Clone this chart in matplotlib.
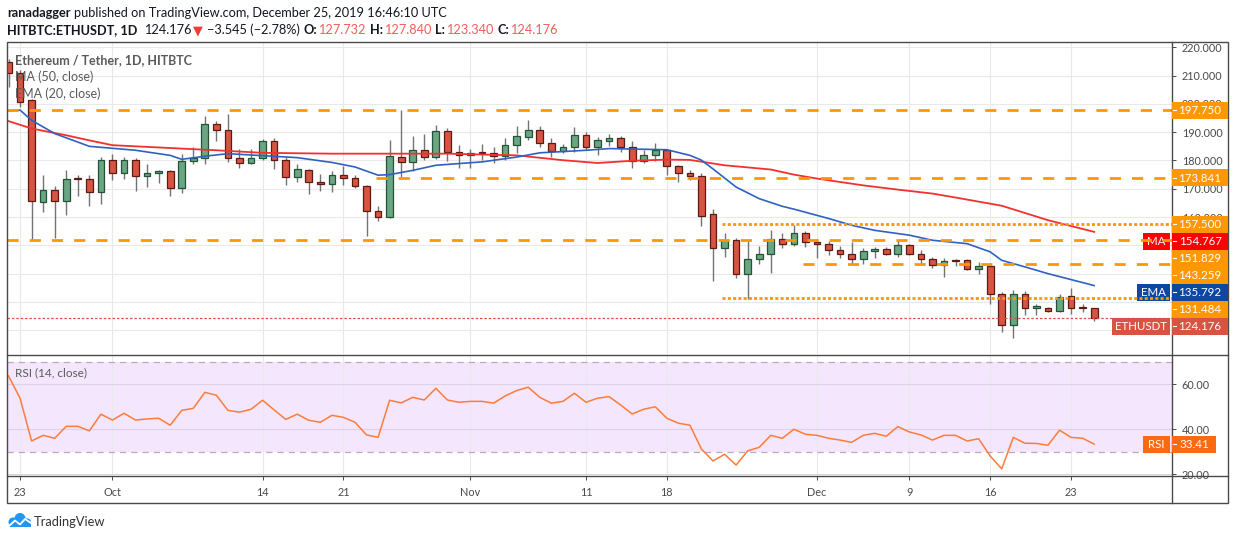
import matplotlib
matplotlib.use('Agg')
import matplotlib.pyplot as plt
import numpy as np
import pandas as pd
from matplotlib.patches import Rectangle, Circle

W, H = 1234, 540
plt.rcParams['font.family'] = ['Lato', 'DejaVu Sans']

# ---------------- data ----------------
dates = pd.date_range('2019-09-22', '2019-12-25', freq='D')

opens = [214.8, 211.0, 201.3, 165.4, 169.7, 165.7, 173.6, 173.6, 168.9, 180.3,
         175.7, 180.3, 174.6, 175.4, 176.2, 170.1, 179.7, 180.7, 192.8, 190.9,
         180.7, 179.2, 181.0, 186.8, 180.3, 174.2, 176.8, 172.5, 171.8, 175.0,
         173.8, 171.0, 162.2, 160.0, 181.2, 179.3, 183.8, 181.2, 190.4, 183.0,
         182.1, 182.8, 182.6, 181.5, 185.6, 188.4, 190.9, 186.3, 183.4, 184.8,
         188.9, 184.8, 186.8, 188.0, 184.6, 179.8, 182.1, 183.6, 178.1, 175.7,
         174.5, 161.0, 149.2, 151.8, 139.8, 145.3, 147.1, 152.4, 150.6, 154.5,
         151.2, 150.5, 148.5, 147.1, 145.3, 147.9, 148.6, 146.9, 150.3, 147.1,
         145.3, 143.2, 144.6, 144.7, 141.8, 142.6, 132.7, 121.8, 132.7, 128.0,
         128.0, 126.8, 132.1, 127.8, 127.732]
highs = [216.0, 212.0, 201.6, 174.8, 170.9, 176.5, 174.8, 174.8, 181.2, 182.4,
         181.2, 180.8, 178.9, 176.6, 176.6, 182.4, 184.6, 195.6, 194.0, 196.3,
         184.2, 184.2, 187.5, 188.0, 181.2, 178.9, 177.1, 175.1, 176.2, 178.0,
         175.0, 171.3, 163.8, 187.4, 197.8, 188.6, 189.3, 192.4, 191.6, 185.4,
         184.2, 185.8, 184.7, 188.1, 192.1, 194.4, 192.1, 188.1, 185.8, 191.8,
         190.0, 188.2, 189.5, 188.5, 186.9, 183.6, 186.1, 183.8, 178.3, 176.8,
         175.7, 162.8, 154.4, 152.7, 151.4, 149.7, 155.3, 154.2, 157.1, 155.2,
         152.3, 151.6, 149.7, 151.2, 148.9, 149.5, 149.5, 151.8, 150.4, 148.3,
         145.9, 145.7, 145.3, 145.2, 144.0, 143.0, 133.5, 134.1, 133.9, 129.4,
         128.3, 132.7, 135.1, 129.4, 127.840]
lows = [206.0, 199.0, 151.8, 161.8, 152.7, 160.6, 167.4, 163.8, 164.5, 173.0,
        173.6, 169.3, 170.6, 171.9, 167.4, 168.5, 178.7, 178.7, 186.9, 179.5,
        177.4, 178.6, 180.0, 177.1, 171.2, 172.4, 168.3, 169.2, 168.9, 171.2,
        170.3, 153.2, 158.6, 159.8, 174.0, 176.3, 180.3, 180.5, 179.8, 177.5,
        177.2, 180.3, 179.0, 180.3, 182.5, 187.1, 184.6, 181.2, 182.5, 183.0,
        183.6, 182.0, 185.0, 183.0, 177.5, 179.2, 179.8, 174.8, 172.4, 173.0,
        156.8, 137.4, 145.9, 138.6, 131.2, 143.3, 140.3, 148.9, 149.8, 149.4,
        145.7, 146.5, 145.7, 143.0, 143.3, 145.7, 146.5, 145.9, 146.5, 143.3,
        142.0, 138.8, 142.7, 141.2, 139.8, 129.4, 119.4, 117.1, 125.5, 125.5,
        126.3, 126.6, 125.7, 126.5, 123.340]
closes = [211.0, 200.7, 165.7, 169.7, 165.7, 173.6, 173.3, 168.9, 180.3, 175.7,
          180.3, 174.6, 175.4, 176.2, 170.1, 179.7, 180.7, 192.8, 190.9, 180.7,
          179.1, 181.0, 186.8, 180.3, 174.2, 177.1, 172.4, 171.8, 175.0, 173.8,
          171.0, 162.2, 160.0, 181.5, 179.3, 183.6, 181.2, 190.4, 183.0, 182.1,
          182.8, 182.6, 181.5, 185.6, 188.6, 190.9, 186.3, 183.4, 184.8, 188.9,
          184.8, 187.1, 188.0, 184.6, 179.8, 182.1, 183.6, 178.1, 175.7, 174.5,
          160.4, 149.2, 151.8, 139.7, 145.3, 147.1, 152.4, 150.6, 154.5, 151.2,
          150.5, 148.5, 147.1, 145.3, 147.9, 148.6, 146.9, 150.3, 147.1, 145.3,
          143.2, 144.5, 144.4, 141.8, 142.6, 132.7, 121.8, 132.7, 128.0, 128.2,
          126.8, 131.8, 127.7, 127.73, 124.176]

rsi = [63.7, 53.8, 34.8, 37.3, 36.0, 41.3, 41.3, 39.3, 46.7, 44.1,
       47.1, 44.1, 44.6, 44.9, 41.8, 48.4, 49.3, 56.4, 55.1, 48.4,
       47.6, 48.9, 52.9, 48.6, 44.4, 46.7, 44.0, 43.1, 46.2, 45.3,
       43.1, 37.5, 36.4, 52.9, 51.7, 54.2, 53.0, 58.2, 53.0, 52.0,
       52.4, 52.4, 51.6, 54.8, 57.2, 58.7, 54.2, 51.6, 52.4, 56.0,
       52.0, 53.8, 54.5, 50.8, 46.8, 48.9, 50.0, 44.9, 42.7, 41.8,
       31.2, 25.9, 28.9, 24.1, 30.4, 32.0, 37.3, 36.0, 40.0, 37.8,
       37.3, 36.0, 35.2, 34.2, 37.3, 38.2, 36.9, 41.2, 38.8, 37.5,
       35.2, 37.3, 37.3, 34.8, 35.8, 28.1, 22.4, 36.4, 33.8, 33.7,
       32.9, 39.6, 36.4, 36.0, 33.41]

ma_dates = ['2019-09-22', '2019-09-24', '2019-09-27', '2019-09-29', '2019-10-01',
            '2019-10-06', '2019-10-10', '2019-10-14', '2019-10-20', '2019-10-26',
            '2019-10-30', '2019-11-05', '2019-11-09', '2019-11-12', '2019-11-15',
            '2019-11-18', '2019-11-20', '2019-11-23', '2019-11-27', '2019-11-29',
            '2019-12-01', '2019-12-05', '2019-12-08', '2019-12-11', '2019-12-13',
            '2019-12-17', '2019-12-21', '2019-12-25']
ma_vals = [193.9, 191.3, 188.9, 187.1, 185.4, 184.4, 183.6, 182.7, 182.4, 182.4,
           182.4, 181.8, 180.1, 179.1, 179.9, 180.3, 180.2, 178.3, 176.8, 175.0,
           173.6, 171.2, 169.7, 168.3, 166.9, 164.0, 158.9, 154.767]

ema_dates = ['2019-09-22', '2019-09-23', '2019-09-24', '2019-09-26', '2019-09-29',
             '2019-10-03', '2019-10-06', '2019-10-07', '2019-10-09', '2019-10-11',
             '2019-10-17', '2019-10-20', '2019-10-22', '2019-10-24', '2019-10-25',
             '2019-10-27', '2019-10-29', '2019-11-02', '2019-11-05', '2019-11-07',
             '2019-11-11', '2019-11-13', '2019-11-18', '2019-11-20', '2019-11-21',
             '2019-11-22', '2019-11-24', '2019-11-26', '2019-11-28', '2019-11-29',
             '2019-12-02', '2019-12-04', '2019-12-06', '2019-12-09', '2019-12-11',
             '2019-12-14', '2019-12-16', '2019-12-17', '2019-12-19', '2019-12-21',
             '2019-12-23', '2019-12-25']
ema_vals = [197.5, 197.8, 194.2, 189.5, 185.0, 183.6, 181.8, 180.4, 181.5, 182.4,
            181.0, 179.3, 177.7, 174.8, 175.0, 176.5, 178.3, 179.5, 181.2, 182.7,
            183.6, 184.2, 183.8, 181.8, 180.1, 177.0, 170.6, 166.5, 163.8, 162.8,
            159.5, 157.1, 155.3, 153.6, 151.8, 150.6, 147.7, 144.7, 142.4, 140.0,
            137.9, 135.792]

level_prices = [197.750, 173.841, 157.500, 151.829, 143.259, 131.484]
level_from = ['2019-09-22', '2019-10-24', '2019-11-23', '2019-09-22', '2019-11-30', '2019-11-23']
level_dotted = [False, False, True, False, False, True]

tick_dates = ['2019-09-23', '2019-10-01', '2019-10-14', '2019-10-21', '2019-11-01',
              '2019-11-11', '2019-11-18', '2019-12-01', '2019-12-09', '2019-12-16', '2019-12-23']
tick_labels = ['23', 'Oct', '14', '21', 'Nov', '11', '18', 'Dec', '9', '16', '23']

price_ticks = [120, 130, 140, 150, 160, 170, 180, 190, 200, 210, 220]
rsi_ticks = [20, 40, 60]

# ---------------- helpers ----------------
def didx(s):
    return (pd.Timestamp(s) - dates[0]).days

fig = plt.figure(figsize=(W / 100, H / 100), dpi=100)
fig.patch.set_facecolor('white')

def rect(x0, y0, x1, y1):
    return [x0 / W, 1 - y1 / H, (x1 - x0) / W, (y1 - y0) / H]

pix = fig.add_axes([0, 0, 1, 1], zorder=5)
pix.set_xlim(0, W)
pix.set_ylim(H, 0)
pix.axis('off')
pix.patch.set_alpha(0)

ax = fig.add_axes(rect(7, 42, 1172, 354), zorder=1)
rs = fig.add_axes(rect(7, 355, 1172, 476), zorder=1)

XL = (-0.13, 100.74)
GRID = '#e9e9ea'
TXT = '#4a4a4a'

# ---------------- price panel ----------------
ax.set_xlim(*XL)
ax.set_ylim(111.6, 221.87)
ax.set_axisbelow(True)
ax.patch.set_alpha(0)
for s in ax.spines.values():
    s.set_visible(False)
ax.set_xticks([didx(d) for d in tick_dates])
ax.set_yticks(price_ticks)
ax.grid(True, color=GRID, lw=0.8)
ax.yaxis.tick_right()
ax.tick_params(axis='y', direction='out', length=3, width=0.7, color=TXT,
               labelsize=7.8, labelcolor=TXT, pad=4)
ax.tick_params(axis='x', length=0, labelbottom=False)

x = np.arange(len(opens))
o, hh, ll, c = (np.array(v, dtype=float) for v in (opens, highs, lows, closes))
up = c >= o
ax.vlines(x, ll, hh, color='#737375', lw=1.0, zorder=2)
blo = np.minimum(o, c)
bh = np.maximum(np.abs(c - o), 0.4)
ax.bar(x[up], bh[up], bottom=blo[up], width=0.58, color='#6ba583',
       edgecolor='#225437', lw=0.9, zorder=3)
ax.bar(x[~up], bh[~up], bottom=blo[~up], width=0.58, color='#d75442',
       edgecolor='#5b1a13', lw=0.9, zorder=3)

ax.plot([didx(d) for d in ma_dates], ma_vals, color='#f2302f', lw=1.3, zorder=4)
ax.plot([didx(d) for d in ema_dates], ema_vals, color='#2f62c0', lw=1.2, zorder=4)

for p, f, dot in zip(level_prices, level_from, level_dotted):
    x0 = XL[0] if didx(f) == 0 else didx(f) - 0.2
    ax.plot([x0, XL[1]], [p, p], color='#ff9800', lw=2.0,
            dashes=(1.1, 0.8) if dot else (4, 4), zorder=5,
            dash_capstyle='butt')
ax.plot([XL[0], XL[1]], [closes[-1], closes[-1]], color='#d75442', lw=0.9,
        dashes=(2, 1.5), zorder=5)

# ---------------- RSI panel ----------------
rs.set_xlim(*XL)
rs.set_ylim(19.24, 73.0)
rs.set_axisbelow(True)
rs.patch.set_alpha(0)
for s in rs.spines.values():
    s.set_visible(False)
rs.axhspan(30, 70, color='#f4e6fc', zorder=0.2, lw=0)
rs.set_xticks([didx(d) for d in tick_dates])
rs.set_xticklabels(tick_labels)
rs.set_yticks(rsi_ticks)
rs.grid(True, axis='x', color=GRID, lw=0.8)
rs.grid(True, axis='y', color='#ddd3e6', lw=0.8)
for lv in (70, 30):
    rs.axhline(lv, color='#b5acbd', lw=0.9, dashes=(5, 4), zorder=1)
rs.plot(x, rsi, color='#fb7d3c', lw=1.1, zorder=3)
rs.yaxis.tick_right()
rs.yaxis.set_major_formatter(lambda v, p: f'{v:.2f}')
rs.tick_params(axis='y', direction='out', length=3, width=0.7, color=TXT,
               labelsize=7.8, labelcolor=TXT, pad=4)
rs.tick_params(axis='x', direction='out', length=3, width=0.7, color=TXT,
               labelsize=7.8, labelcolor=TXT, pad=5)

# ---------------- frame ----------------
FR = '#4a4a4a'
pix.add_patch(Rectangle((7, 42), 1228 - 7, 503 - 42, fill=False, ec=FR, lw=1.0))
pix.plot([7, 1228], [354.5, 354.5], color=FR, lw=1.0)
pix.plot([7, 1228], [476, 476], color=FR, lw=1.0)
pix.plot([1172, 1172], [42, 503], color=FR, lw=1.0)

# ---------------- price labels ----------------
def ypix(axis, val):
    return H - axis.transData.transform((0, val))[1]

labels = [(p, f'{p:.3f}', '#ff9800', None, None) for p in level_prices]
labels += [(ma_vals[-1], f'{ma_vals[-1]:.3f}', '#ff0000', 'MA', 1143),
           (ema_vals[-1], f'{ema_vals[-1]:.3f}', '#0d47a1', 'EMA', 1137),
           (closes[-1], f'{closes[-1]:.3f}', '#d75442', 'ETHUSDT', 1112)]
labels.sort(key=lambda t: -t[0])
BH = 17
prev = -1e9
box_spans = []
for p, txt, col, tag, tx0 in labels:
    yc = max(ypix(ax, p), prev + BH)
    prev = yc
    box_spans.append((yc - BH / 2, yc + BH / 2))
    pix.add_patch(Rectangle((1172, yc - BH / 2), 56, BH, fc=col, ec='none', zorder=6))
    pix.plot([1172.5, 1176], [yc, yc], color='white', lw=0.8, zorder=7)
    pix.text(1200, yc + 0.5, txt, color='white', fontsize=8.3, ha='center', va='center', zorder=7)
    if tag:
        ax.add_patch(Rectangle((tx0, yc - BH / 2), 1170 - tx0, BH, fc=col, ec='none',
                               transform=pix.transData, zorder=1.2, clip_on=False))
        ax.text((tx0 + 1170) / 2, yc + 0.5, tag, color='white', fontsize=8.3, ha='center',
                va='center', transform=pix.transData, zorder=1.3, clip_on=False)

# tick labels that lie (almost) fully under the label boxes are hidden, as on the reference
def covered(v):
    y = ypix(ax, v)
    top, bot = y - 5, y + 5
    cov = 0.0
    for a, b in box_spans:
        cov += max(0.0, min(bot, b) - max(top, a))
    return cov >= 8.5
ax.set_yticklabels(['' if covered(v) else f'{v:.3f}' for v in price_ticks])

# RSI label
ry = ypix(rs, rsi[-1])
RC = '#fb6a12'
pix.add_patch(Rectangle((1172, ry - BH / 2), 44, BH, fc=RC, ec='none', zorder=6))
pix.plot([1172.5, 1176], [ry, ry], color='white', lw=0.8, zorder=7)
pix.text(1194, ry + 0.5, f'{rsi[-1]:.2f}', color='white', fontsize=8.3, ha='center', va='center', zorder=7)
pix.add_patch(Rectangle((1143, ry - BH / 2), 27, BH, fc=RC, ec='none', zorder=6))
pix.text(1156.5, ry + 0.5, 'RSI', color='white', fontsize=8.3, ha='center', va='center', zorder=7)

# ---------------- legends ----------------
LG = '#5a5a5a'
pix.text(15, 60, 'Ethereum / Tether, 1D, HITBTC', color=LG, fontsize=9, fontweight='bold', va='center')
pix.text(15, 77, 'MA (50, close)', color=LG, fontsize=9, va='center')
pix.text(15, 94, 'EMA (20, close)', color=LG, fontsize=9, va='center')
pix.text(15, 373, 'RSI (14, close)', color=LG, fontsize=8.5, va='center')

# ---------------- header ----------------
r = fig.canvas.get_renderer()
def seq(pieces, x0, y, size):
    xx = x0
    for txt, wt, col, gap in pieces:
        xx += gap
        t = pix.text(xx, y, txt, fontsize=size, fontweight=wt, color=col, va='center', ha='left')
        xx = t.get_window_extent(renderer=r).x1

DK = '#131722'
RD = '#ef5f5b'
seq([('ranadagger', 'bold', DK, 0),
     ('published on TradingView.com, December 25, 2019 16:46:10 UTC', 'normal', DK, 3.5)],
    7, 13, 9.2)
seq([('HITBTC:ETHUSDT, 1D', 'bold', DK, 0),
     ('124.176', 'normal', DK, 7),
     ('\u25bc', 'normal', '#ef3b36', 1),
     ('\u22123.545 (\u22122.78%)', 'normal', DK, 4),
     ('O:', 'bold', DK, 4), ('127.732', 'normal', RD, 1),
     ('H:', 'bold', DK, 4), ('127.840', 'normal', RD, 1),
     ('L:', 'bold', DK, 4), ('123.340', 'normal', RD, 1),
     ('C:', 'bold', DK, 4), ('124.176', 'normal', RD, 1)],
    7, 30, 9.2)

# ---------------- logo ----------------
BL = '#2196f3'
for cx, cy, rr in [(13, 522, 4.5), (20, 518.5, 5.5), (27, 522.5, 4.2)]:
    pix.add_patch(Circle((cx, cy), rr, fc=BL, ec='none'))
pix.add_patch(Rectangle((8.5, 522), 22.5, 5, fc=BL, ec='none'))
pix.plot([9, 15, 20, 25, 31], [526, 520.5, 524.5, 519, 523], color='white', lw=1.3,
         solid_capstyle='round')
pix.text(34, 521.5, 'TradingView', color='#333333', fontsize=9.3, va='center')

fig.savefig('out.png', dpi=100, facecolor='white')
